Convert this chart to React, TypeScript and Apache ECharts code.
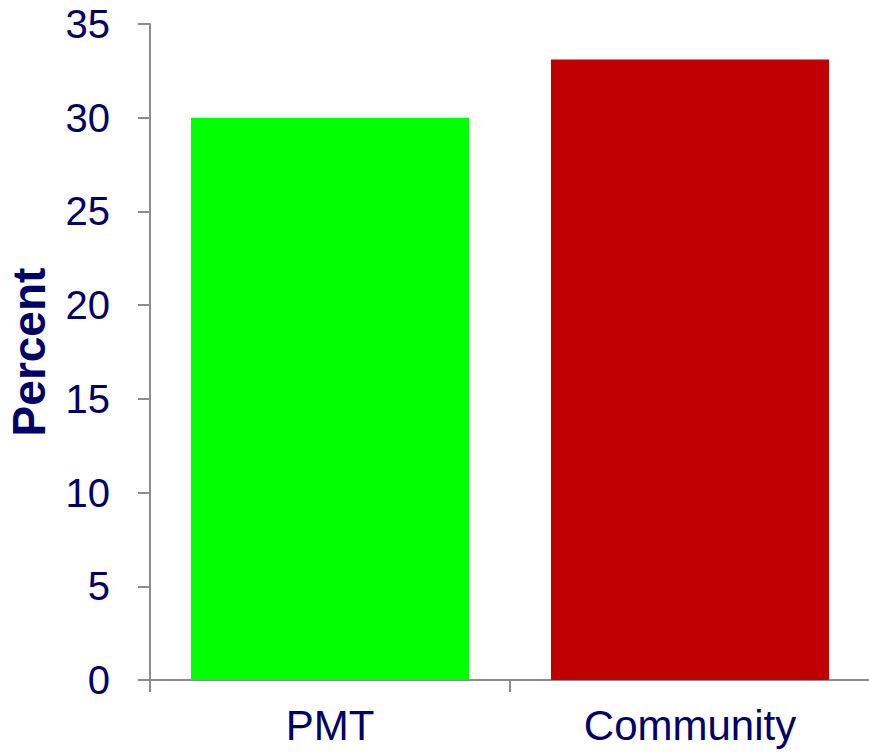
import React, { useEffect, useRef } from "react";
import * as echarts from "echarts";

const categories = ["PMT", "Community"];
const values = [30, 33.1];
const barColors = ["#00FF00", "#C00000"];
const yTicks = { min: 0, max: 35, interval: 5 };

export default function App() {
  const ref = useRef<HTMLDivElement>(null);
  useEffect(() => {
    const chart = echarts.init(ref.current!, null, { renderer: "svg" });
    chart.setOption({
      animation: false,
      backgroundColor: "#ffffff",
      grid: {
        left: 150,
        right: -1,
        top: 24,
        bottom: 73,
        containLabel: false,
        outerBoundsMode: "none",
      },
      xAxis: {
        type: "category",
        data: categories,
        axisLine: { lineStyle: { color: "#8c8c8c", width: 2 } },
        axisTick: { show: true, length: 12, lineStyle: { color: "#8c8c8c", width: 2 } },
        axisLabel: {
          color: "#000066",
          fontFamily: "Liberation Sans, Arial, sans-serif",
          fontSize: 42,
          margin: 24,
        },
      },
      yAxis: {
        type: "value",
        min: yTicks.min,
        max: yTicks.max,
        interval: yTicks.interval,
        name: "Percent",
        nameLocation: "middle",
        nameRotate: 90,
        nameGap: 98,
        nameTextStyle: {
          color: "#000066",
          fontFamily: "Liberation Sans, Arial, sans-serif",
          fontSize: 46,
          fontWeight: "bold",
        },
        splitLine: { show: false },
        axisLine: { show: true, lineStyle: { color: "#8c8c8c", width: 2 } },
        axisTick: { show: true, length: 12, lineStyle: { color: "#8c8c8c", width: 2 } },
        axisLabel: {
          color: "#000066",
          fontFamily: "Liberation Sans, Arial, sans-serif",
          fontSize: 40,
          margin: 40,
        },
      },
      series: [
        {
          type: "bar",
          data: values.map((v, i) => ({ value: v, itemStyle: { color: barColors[i] } })),
          barWidth: 278,
        },
      ],
    });
    return () => chart.dispose();
  }, []);
  return (
    <div
      ref={ref}
      style={{ position: "fixed", left: 0, top: 0, width: 869, height: 753 }}
    />
  );
}
